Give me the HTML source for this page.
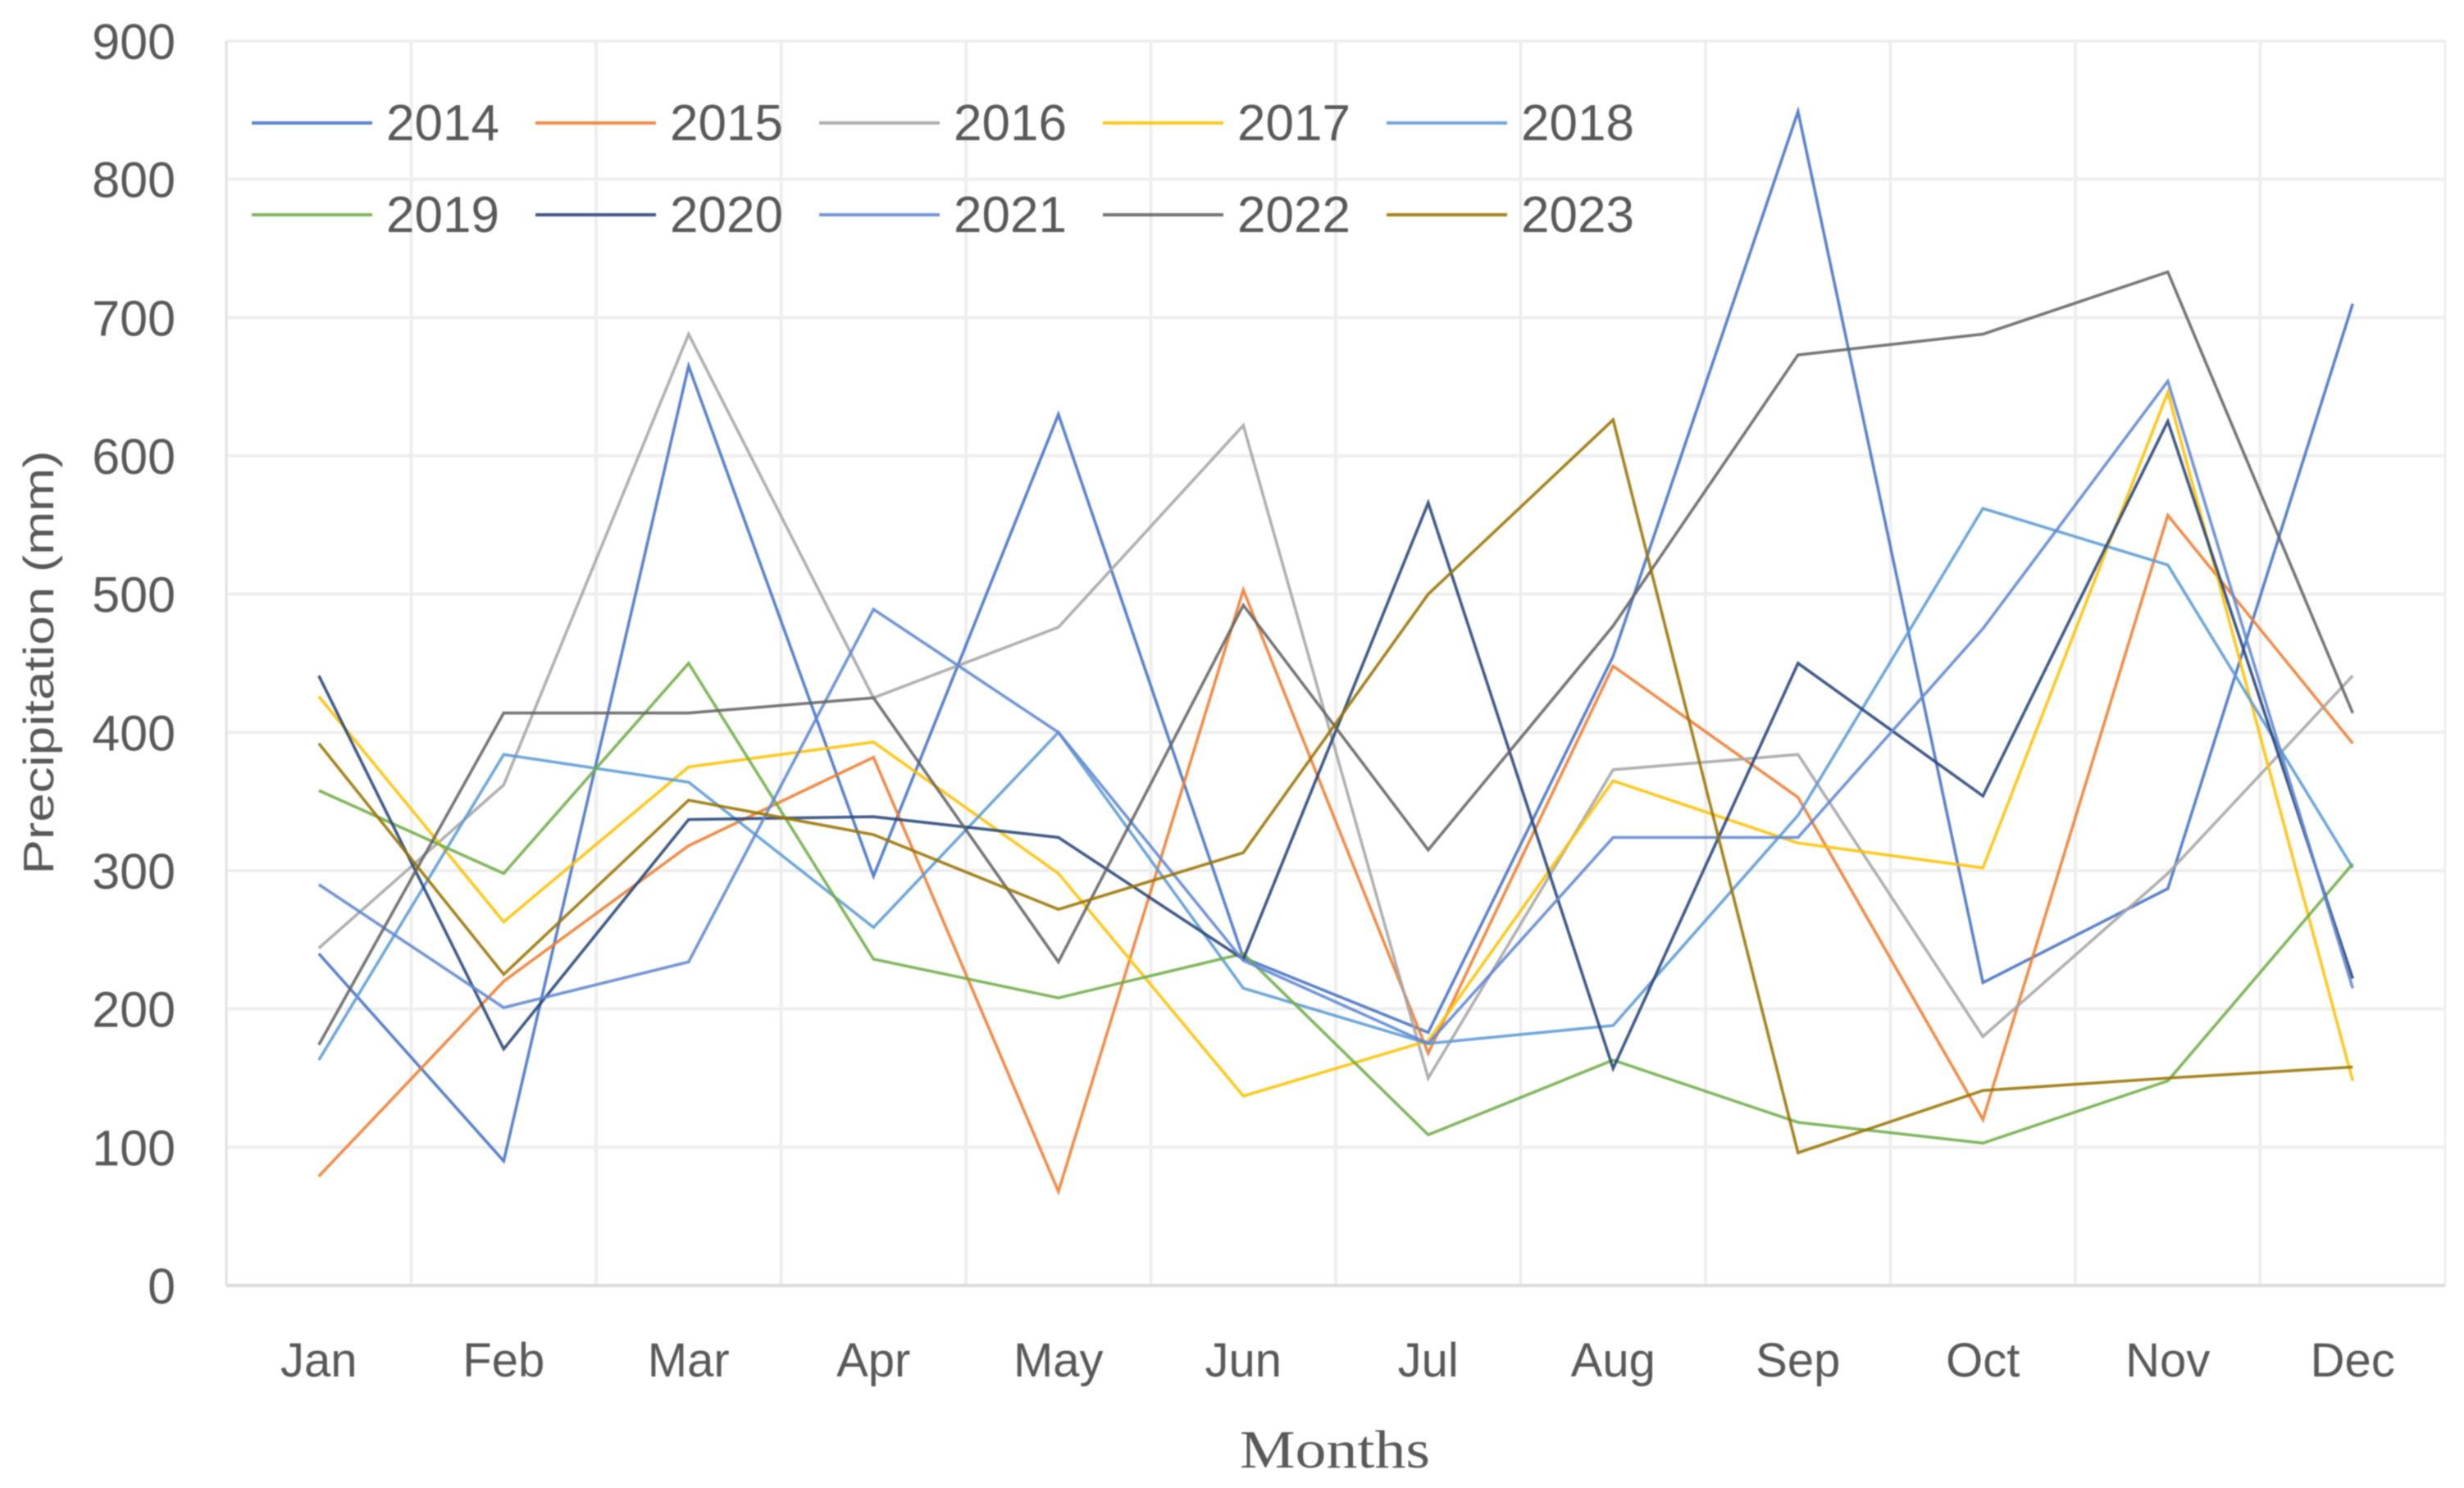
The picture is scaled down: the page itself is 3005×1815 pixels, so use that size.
<!DOCTYPE html>
<html lang="en">
<head>
<meta charset="utf-8">
<title>Monthly precipitation 2014–2023</title>
<style>
html,body{margin:0;padding:0;background:#fff;width:3005px;height:1815px;overflow:hidden}
svg{display:block;filter:blur(0.9px)}
text{font-family:"Liberation Sans",sans-serif;fill:#585858}
</style>
</head>
<body>
<svg id="chart" xmlns="http://www.w3.org/2000/svg" width="3005" height="1815" viewBox="0 0 3005 1815">
  <rect x="0" y="0" width="3005" height="1815" fill="#ffffff"/>
  <g id="grid"></g>
  <g id="yticks"></g>
  <g id="xticks"></g>
  <g id="lines"></g>
  <g id="legend"></g>
  <text transform="translate(65 808) rotate(-90)" text-anchor="middle" font-size="52" textLength="517" lengthAdjust="spacingAndGlyphs">Precipitation (mm)</text>
  <text x="1628" y="1790" text-anchor="middle" font-size="66" textLength="232" lengthAdjust="spacingAndGlyphs" style="font-family:'Liberation Serif',serif">Months</text>
</svg>
<script>
const months = ['Jan','Feb','Mar','Apr','May','Jun','Jul','Aug','Sep','Oct','Nov','Dec'];
const yTicks = [0,100,200,300,400,500,600,700,800,900];
const seriesNames = ['2014','2015','2016','2017','2018','2019','2020','2021','2022','2023'];
const seriesColors = ['#4472c4','#ed7d31','#a5a5a5','#ffc000','#5b9bd5','#70ad47','#264478','#5f88d0','#636363','#997300'];
const v2014 = [240,90,665,296,630,237,183,455,849,219,287,710];
const v2015 = [79,220,318,382,68,503,168,448,353,120,557,392];
const v2016 = [244,362,688,425,476,622,150,373,384,180,298,441];
const v2017 = [426,263,375,393,298,137,177,365,320,302,646,148];
const v2018 = [163,384,364,259,400,215,175,188,340,562,521,302];
const v2019 = [358,298,450,236,208,240,109,163,118,103,148,305];
const v2020 = [441,171,337,339,324,236,566,157,450,354,625,222];
const v2021 = [290,201,234,489,400,235,175,324,324,475,654,215];
const v2022 = [174,414,414,425,234,492,315,477,673,688,733,414];
const v2023 = [392,225,351,326,272,313,500,626,96,141,150,158];
const seriesValues = [v2014,v2015,v2016,v2017,v2018,v2019,v2020,v2021,v2022,v2023];

const NS = 'http://www.w3.org/2000/svg';
const plotLeft = 276, plotRight = 2982, plotTop = 50, plotBottom = 1568, yMax = 900;
const catWidth = (plotRight - plotLeft) / months.length;
function xScale(i){ return plotLeft + catWidth * (i + 0.5); }
function yScale(v){ return plotBottom - (v / yMax) * (plotBottom - plotTop); }
function make(tag, attrs, parent, txt){
  const el = document.createElementNS(NS, tag);
  for (const k in attrs) el.setAttribute(k, attrs[k]);
  if (txt !== undefined) el.textContent = txt;
  parent.appendChild(el);
  return el;
}
const grid = document.getElementById('grid');
const yticksG = document.getElementById('yticks');
const xticksG = document.getElementById('xticks');
const linesG = document.getElementById('lines');
const legendG = document.getElementById('legend');

yTicks.forEach(function(t){
  if (t !== 0) {
    const g = make('line', {x1:plotLeft, x2:plotRight, y1:yScale(t), y2:yScale(t), stroke:'#eeeeee', 'stroke-width':4}, grid);
    
    
  }
  const lb = make('text', {x:214, y:yScale(t)+22, 'text-anchor':'end', 'font-size':61}, yticksG, String(t));
  
  
});
for (let i = 1; i < months.length; i++) {
  const vx = plotLeft + catWidth * i;
  const g = make('line', {x1:vx, x2:vx, y1:plotTop, y2:plotBottom, stroke:'#eeeeee', 'stroke-width':4}, grid);
  
  
}
const rightEdge = make('line', {x1:plotRight, x2:plotRight, y1:plotTop, y2:plotBottom, stroke:'#eeeeee', 'stroke-width':3}, grid);


const yAxis = make('line', {x1:plotLeft, x2:plotLeft, y1:plotTop, y2:plotBottom, stroke:'#e2e2e2', 'stroke-width':3}, grid);


const xAxis = make('line', {x1:plotLeft, x2:plotRight, y1:plotBottom, y2:plotBottom, stroke:'#dcdcdc', 'stroke-width':4}, grid);



months.forEach(function(m, i){
  const lb = make('text', {x:xScale(i), y:1679, 'text-anchor':'middle', 'font-size':58}, xticksG, m);
  
  
});

seriesValues.forEach(function(vals, s){
  const pts = vals.map(function(v, i){ return xScale(i).toFixed(1) + ',' + yScale(v).toFixed(1); }).join(' ');
  const pl = make('polyline', {points:pts, fill:'none', stroke:seriesColors[s], 'stroke-width':3.6, 'stroke-linejoin':'miter', 'stroke-miterlimit':10, opacity:0.88}, linesG);
  
  
});

seriesNames.forEach(function(name, s){
  const col = s % 5, row = Math.floor(s / 5);
  const lx = 307 + col * 346, ly = 150 + row * 112;
  const sw = make('line', {x1:lx, x2:lx+147, y1:ly, y2:ly, stroke:seriesColors[s], 'stroke-width':4, opacity:0.88}, legendG);
  
  
  const tx = make('text', {x:lx+164, y:ly+21, 'font-size':62}, legendG, name);
  
  
});
</script>
</body>
</html>
